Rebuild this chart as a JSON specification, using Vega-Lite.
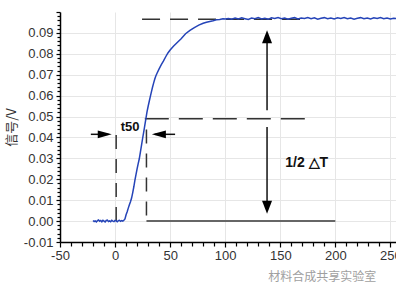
{
  "$schema": "https://vega.github.io/schema/vega-lite/v6.json",
  "width": 337,
  "height": 230,
  "autosize": {"type": "none"},
  "padding": {"left": 60, "top": 12, "right": 0, "bottom": 53},
  "background": "white",
  "config": {"view": {"stroke": null}, "font": "Liberation Sans"},
  "encoding": {
    "x": {"field": "x", "type": "quantitative", "scale": {"domain": [-50, 256], "nice": false, "zero": false},
      "axis": {
        "title": null,
        "values": [-50,-40,-30,-20,-10,0,10,20,30,40,50,60,70,80,90,100,110,120,130,140,150,160,170,180,190,200,210,220,230,240,250],
        "format": "d",
        "labelExpr": "datum.value % 50 === 0 ? replace(datum.label, '\u2212', '-') : ''",
        "labelOverlap": false,
        "labelFlush": false,
        "labelFont": "Liberation Sans",
        "labelFontSize": 13,
        "labelColor": "#333",
        "labelPadding": 2,
        "grid": true,
        "gridColor": "#e6e6e6",
        "gridWidth": 1,
        "gridOpacity": {"condition": {"test": "datum.value % 50 === 0 && datum.value > -50", "value": 1}, "value": 0},
        "tickSize": {"condition": {"test": "datum.value % 50 === 0", "value": 5}, "value": 4},
        "tickColor": "#000",
        "tickWidth": 1.2,
        "domainColor": "#000",
        "domainWidth": 1.5
      }},
    "y": {"field": "y", "type": "quantitative", "scale": {"domain": [-0.01, 0.1], "nice": false, "zero": false},
      "axis": {
        "title": "信号/V",
        "titleFont": "Noto Sans CJK SC",
        "titleFontSize": 13,
        "titleFontWeight": "normal",
        "titleColor": "#333",
        "titlePadding": 5,
        "values": [-0.01,-0.008,-0.006,-0.004,-0.002,0,0.002,0.004,0.006,0.008,0.01,0.012,0.014,0.016,0.018,0.02,0.022,0.024,0.026,0.028,0.03,0.032,0.034,0.036,0.038,0.04,0.042,0.044,0.046,0.048,0.05,0.052,0.054,0.056,0.058,0.06,0.062,0.064,0.066,0.068,0.07,0.072,0.074,0.076,0.078,0.08,0.082,0.084,0.086,0.088,0.09,0.092,0.094,0.096,0.098,0.1],
        "labelExpr": "abs(round(datum.value*1000)) % 10 === 0 && datum.value < 0.095 ? replace(format(datum.value, '.2f'), '\u2212', '-') : ''",
        "labelOverlap": false,
        "labelFlush": false,
        "labelFont": "Liberation Sans",
        "labelFontSize": 13,
        "labelColor": "#333",
        "labelPadding": 3,
        "grid": true,
        "gridColor": "#e6e6e6",
        "gridWidth": 1,
        "gridOpacity": {"condition": {"test": "abs(round(datum.value*1000)) % 10 === 0 && datum.value > -0.005 && datum.value < 0.095", "value": 1}, "value": 0},
        "tickSize": {"condition": {"test": "abs(round(datum.value*1000)) % 10 === 0", "value": 4}, "value": 3},
        "tickColor": "#000",
        "tickWidth": 1.2,
        "domainColor": "#000",
        "domainWidth": 1.5
      }}
  },
  "layer": [
    {
      "data": {"values": [{"x": 24.5, "x2": 174.5, "y": 0.0965}]},
      "mark": {"type": "rule", "color": "#333", "strokeWidth": 1.5, "strokeDash": [18, 10]},
      "encoding": {"x2": {"field": "x2"}}
    },
    {
      "data": {"values": [{"x": 27, "x2": 175, "y": 0.049}]},
      "mark": {"type": "rule", "color": "#333", "strokeWidth": 1.5, "strokeDash": [24, 10]},
      "encoding": {"x2": {"field": "x2"}}
    },
    {
      "data": {"values": [{"x": 1, "y": 0.0, "y2": 0.046}, {"x": 28.5, "y": 0.0027, "y2": 0.046}]},
      "mark": {"type": "rule", "color": "#333", "strokeWidth": 1.5, "strokeDash": [14, 10]},
      "encoding": {"y2": {"field": "y2"}}
    },
    {
      "data": {"values": [{"x": 28.5, "x2": 200, "y": 0.0}]},
      "mark": {"type": "rule", "color": "#666", "strokeWidth": 2},
      "encoding": {"x2": {"field": "x2"}}
    },
    {
      "data": {"values": [{"x": 138, "y": 0.088, "y2": 0.053}, {"x": 138, "y": 0.045, "y2": 0.007}]},
      "mark": {"type": "rule", "color": "#111", "strokeWidth": 1.5},
      "encoding": {"y2": {"field": "y2"}}
    },
    {
      "data": {"values": [{"x": -22, "x2": -6, "y": 0.0415}, {"x": 36, "x2": 54.5, "y": 0.0415}]},
      "mark": {"type": "rule", "color": "#111", "strokeWidth": 1.5},
      "encoding": {"x2": {"field": "x2"}}
    },
    {
      "data": {"values": [{"x": 138, "y": 0.0913}]},
      "mark": {"type": "point", "shape": "M0,0L0.77,2L-0.77,2Z", "size": 169, "filled": true, "color": "#000", "opacity": 1, "strokeWidth": 0}
    },
    {
      "data": {"values": [{"x": 138, "y": 0.0035}]},
      "mark": {"type": "point", "shape": "M0,0L0.77,-2L-0.77,-2Z", "size": 169, "filled": true, "color": "#000", "opacity": 1, "strokeWidth": 0}
    },
    {
      "data": {"values": [{"x": -3, "y": 0.0415}]},
      "mark": {"type": "point", "shape": "M0,0L-2,-0.55L-2,0.55Z", "size": 196, "filled": true, "color": "#000", "opacity": 1, "strokeWidth": 0}
    },
    {
      "data": {"values": [{"x": 33.4, "y": 0.0415}]},
      "mark": {"type": "point", "shape": "M0,0L2,-0.55L2,0.55Z", "size": 196, "filled": true, "color": "#000", "opacity": 1, "strokeWidth": 0}
    },
    {
      "data": {"values": [
        {"x": -20, "y": 0.0003}, {"x": -19, "y": -0.0002}, {"x": -18, "y": 0.0001}, {"x": -17, "y": -0.0004},
        {"x": -16, "y": 0.0002}, {"x": -15, "y": 0.0005}, {"x": -14, "y": -0.0001}, {"x": -13, "y": 0.0003},
        {"x": -12, "y": -0.0003}, {"x": -11, "y": 0.0004}, {"x": -10, "y": 0.0}, {"x": -9, "y": -0.0004},
        {"x": -8, "y": 0.0003}, {"x": -7, "y": 0.0005}, {"x": -6, "y": -0.0002}, {"x": -5, "y": 0.0001},
        {"x": -4, "y": -0.0003}, {"x": -3, "y": 0.0004}, {"x": -2, "y": 0.0}, {"x": -1, "y": -0.0002},
        {"x": 0, "y": 0.0003}, {"x": 1, "y": 0.0001}, {"x": 2, "y": -0.0003}, {"x": 3, "y": 0.0002},
        {"x": 4, "y": 0.0004}, {"x": 5, "y": -0.0001}, {"x": 6, "y": 0.0002}, {"x": 7, "y": 0.0}, {"x": 8, "y": 0.0004},
        {"x": 9, "y": 0.001}, {"x": 10, "y": 0.003}, {"x": 11, "y": 0.0045}, {"x": 12, "y": 0.0062},
        {"x": 13, "y": 0.0078}, {"x": 14, "y": 0.0093}, {"x": 15, "y": 0.011}, {"x": 16, "y": 0.0135},
        {"x": 17, "y": 0.0163}, {"x": 18, "y": 0.0195}, {"x": 19, "y": 0.0222}, {"x": 20, "y": 0.025},
        {"x": 21, "y": 0.0275}, {"x": 22, "y": 0.0298}, {"x": 23, "y": 0.033}, {"x": 24, "y": 0.0362},
        {"x": 25, "y": 0.0395}, {"x": 26, "y": 0.0425}, {"x": 27, "y": 0.0458}, {"x": 28, "y": 0.049},
        {"x": 29, "y": 0.0522}, {"x": 30, "y": 0.0548}, {"x": 31, "y": 0.0572}, {"x": 32, "y": 0.0595},
        {"x": 33, "y": 0.0618}, {"x": 34, "y": 0.064}, {"x": 35, "y": 0.066}, {"x": 36, "y": 0.0678},
        {"x": 37, "y": 0.0694}, {"x": 38, "y": 0.0706}, {"x": 40, "y": 0.0728}, {"x": 42, "y": 0.0748},
        {"x": 44, "y": 0.0766}, {"x": 46, "y": 0.0786}, {"x": 48, "y": 0.0804}, {"x": 50, "y": 0.0818},
        {"x": 53, "y": 0.0836}, {"x": 56, "y": 0.0852}, {"x": 60, "y": 0.0872}, {"x": 64, "y": 0.0896},
        {"x": 68, "y": 0.0912}, {"x": 72, "y": 0.0925}, {"x": 76, "y": 0.0937}, {"x": 80, "y": 0.0946},
        {"x": 83, "y": 0.0951}, {"x": 86, "y": 0.0955}, {"x": 89, "y": 0.0958}, {"x": 92, "y": 0.0963},
        {"x": 95, "y": 0.0964}, {"x": 98, "y": 0.0968},
        {"x": 100, "y": 0.0966}, {"x": 103, "y": 0.0969}, {"x": 106, "y": 0.0965}, {"x": 109, "y": 0.0971},
        {"x": 112, "y": 0.0967}, {"x": 115, "y": 0.0972}, {"x": 118, "y": 0.0968}, {"x": 121, "y": 0.0964},
        {"x": 124, "y": 0.0971}, {"x": 127, "y": 0.0968}, {"x": 130, "y": 0.0973}, {"x": 133, "y": 0.0967},
        {"x": 136, "y": 0.097}, {"x": 139, "y": 0.0965}, {"x": 142, "y": 0.0972}, {"x": 145, "y": 0.0969},
        {"x": 148, "y": 0.0974}, {"x": 151, "y": 0.0968}, {"x": 154, "y": 0.0971}, {"x": 157, "y": 0.0966},
        {"x": 160, "y": 0.097}, {"x": 163, "y": 0.0973}, {"x": 166, "y": 0.0967}, {"x": 169, "y": 0.0971},
        {"x": 172, "y": 0.0969}, {"x": 175, "y": 0.0974}, {"x": 178, "y": 0.0968}, {"x": 181, "y": 0.0972},
        {"x": 184, "y": 0.0966}, {"x": 187, "y": 0.097}, {"x": 190, "y": 0.0973}, {"x": 193, "y": 0.0968},
        {"x": 196, "y": 0.0971}, {"x": 199, "y": 0.0967}, {"x": 202, "y": 0.0972}, {"x": 205, "y": 0.0969},
        {"x": 208, "y": 0.0974}, {"x": 211, "y": 0.0968}, {"x": 214, "y": 0.0971}, {"x": 217, "y": 0.0966},
        {"x": 220, "y": 0.097}, {"x": 223, "y": 0.0973}, {"x": 226, "y": 0.0968}, {"x": 229, "y": 0.0971},
        {"x": 232, "y": 0.0967}, {"x": 235, "y": 0.0972}, {"x": 238, "y": 0.0969}, {"x": 241, "y": 0.0973},
        {"x": 244, "y": 0.0968}, {"x": 247, "y": 0.0971}, {"x": 250, "y": 0.0967}, {"x": 253, "y": 0.097},
        {"x": 256, "y": 0.0968}
      ]},
      "mark": {"type": "line", "color": "#2544b8", "strokeWidth": 1.5}
    },
    {
      "data": {"values": [{"x": 13.6, "y": 0.0451, "label": "t50"}]},
      "mark": {"type": "text", "font": "Liberation Sans", "fontSize": 13, "fontWeight": "bold", "color": "#111", "align": "center", "baseline": "middle"},
      "encoding": {"text": {"field": "label"}}
    },
    {
      "data": {"values": [{"x": 154.5, "y": 0.0278, "label": "1/2 △T"}]},
      "mark": {"type": "text", "font": "Liberation Sans", "fontSize": 14, "fontWeight": "bold", "color": "#111", "align": "left", "baseline": "middle"},
      "encoding": {"text": {"field": "label"}}
    },
    {
      "data": {"values": [{"x": 139, "y": -0.0267, "label": "材料合成共享实验室"}]},
      "mark": {"type": "text", "font": "Noto Sans CJK SC", "fontSize": 12, "color": "#888", "opacity": 0.8, "align": "left", "baseline": "middle"},
      "encoding": {"text": {"field": "label"}}
    }
  ]
}
